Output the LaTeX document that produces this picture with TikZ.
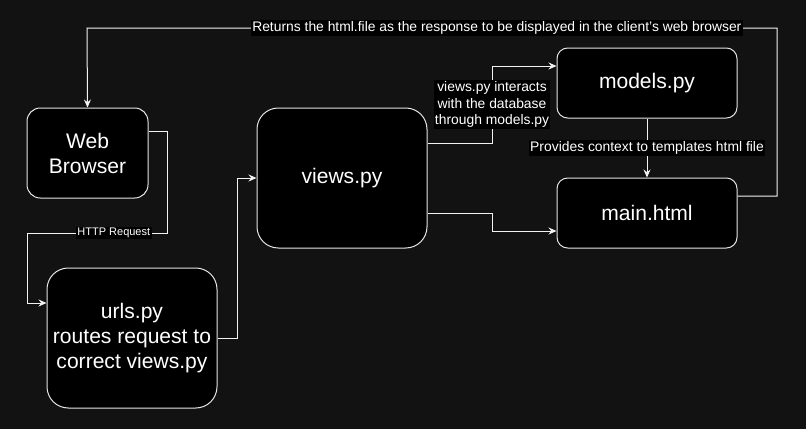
\documentclass[tikz,border=0pt]{standalone}
\usepackage{fontspec}
\setmainfont{Liberation Sans}
\usetikzlibrary{arrows.meta}
\definecolor{Canvas}{HTML}{121212}
\definecolor{Edge}{HTML}{E6E6E6}
\definecolor{Wire}{HTML}{F2F2F2}

\begin{document}
\begin{tikzpicture}[x=0.75pt,y=-0.75pt,
  box/.style={draw=Edge,fill=black,text=white,line width=0.75pt,align=center,
    inner sep=0pt,font=\fontsize{15.8}{18.75}\selectfont},
  wire/.style={draw=Wire,line width=0.75pt,-{Stealth[length=6pt,width=5.25pt,inset=2pt]}},
  tag/.style={fill=black,text=white,inner sep=1pt,align=center,
    font=\fontsize{10.4}{12.4}\selectfont}]
  % Canvas
  \fill[Canvas] (0,0) rectangle (806,429);
  \useasboundingbox (0,0) rectangle (806,429);

  % Web Browser
  \node[box,rounded corners=10pt,minimum width=90.75pt,minimum height=67.5pt]
    (browser) at (87.5,153) {Web\\Browser};

  % urls.py
  \node[box,rounded corners=16pt,minimum width=127.5pt,minimum height=105pt]
    (urls) at (132,338) {urls.py\\routes request to\\correct views.py};

  % views.py
  \node[box,rounded corners=16pt,minimum width=127.5pt,minimum height=105pt]
    (views) at (342,178) {views.py};

  % models.py
  \node[box,rounded corners=8pt,minimum width=135pt,minimum height=52.5pt]
    (models) at (647,83) {models.py};

  % main.html
  \node[box,rounded corners=8pt,minimum width=135pt,minimum height=52.5pt]
    (mainhtml) at (647,213) {main.html};

  % Request from the browser
  \draw[wire] (browser.east |- 0,131) -- (167,131) -- (167,233)
    -- node[tag,pos=0.38,font=\fontsize{8.25}{10}\selectfont]{HTTP Request} (27,233)
    -- (27,303) -- (urls.west |- 0,303);

  % Routing to the view
  \draw[wire] (urls.east |- 0,338) -- (237,338) -- (237,178) -- (views.west);

  % View and model
  \draw[wire] (views.east |- 0,143) -- (492,143)
    -- node[tag]{views.py interacts\\with the database\\through models.py} (492,66)
    -- (models.west |- 0,66);

  % View and template
  \draw[wire] (views.east |- 0,213) -- (492,213) -- (492,231) -- (mainhtml.west |- 0,231);

  % Context for the template
  \draw[wire] (models) -- node[tag]{Provides context to templates html file} (mainhtml);

  % Response back to the browser
  \draw[wire] (mainhtml.east |- 0,196) -- (777,196) -- (777,28)
    -- node[tag,pos=0.406]{Returns the html.file as the response to be displayed in the client's web browser} (87,28)
    -- (browser.north);
\end{tikzpicture}
\end{document}
